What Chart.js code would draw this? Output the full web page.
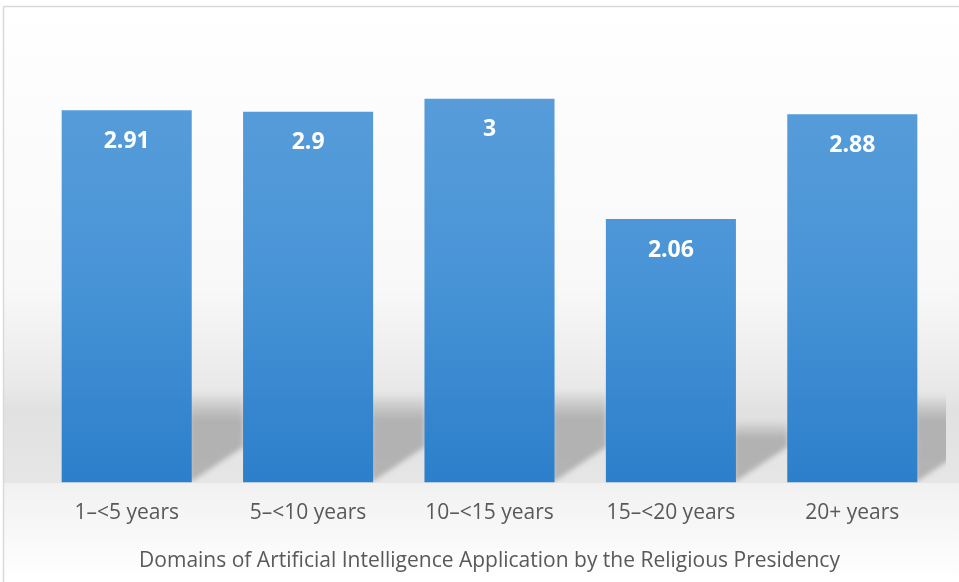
<!doctype html>
<html lang="en">
<head>
  <meta charset="UTF-8" />
  <title>Domains of Artificial Intelligence Application</title>
  <script src="https://cdn.jsdelivr.net/npm/chart.js@4.4.4/dist/chart.umd.min.js"></script>
  <style>
    html, body {
      margin: 0;
      padding: 0;
      background: #ffffff;
    }
    .wrap {
      position: relative;
      width: 959px;
      height: 582px;
    }
  </style>
</head>
<body>
  <div class="wrap">
    <canvas id="aiChart" width="959" height="582"></canvas>
  </div>

  <script>
    const categories = ['1–<5 years', '5–<10 years', '10–<15 years', '15–<20 years', '20+ years'];
    const means = [2.91, 2.9, 3, 2.06, 2.88];
    const axisTitle = 'Domains of Artificial Intelligence Application by the Religious Presidency';

    const fontFamily = '"Open Sans", sans-serif';

    // page background: soft white-to-grey "floor" plus the frame line
    const backdrop = {
      id: 'backdrop',
      beforeDraw(chart) {
        const { ctx, width, height, chartArea } = chart;
        const floor = chartArea.bottom;
        const g = ctx.createLinearGradient(0, 0, 0, height);
        g.addColorStop(0, '#ffffff');
        g.addColorStop(0.5, '#f8f8f8');
        g.addColorStop(385 / height, '#e9e9e9');
        g.addColorStop(410 / height, '#e1e1e1');
        g.addColorStop(floor / height, '#e6e6e6');
        g.addColorStop((floor + 1) / height, '#f1f1f1');
        g.addColorStop(1, '#ffffff');
        ctx.save();
        ctx.fillStyle = g;
        ctx.fillRect(4, 7, width, height);
        ctx.strokeStyle = '#d9d9d9';
        ctx.lineWidth = 1.5;
        ctx.strokeRect(3.5, 6.5, width + 10, height + 10);
        ctx.restore();
      }
    };

    // slanted grey shadow cast to the right of each bar
    const barShadows = {
      id: 'barShadows',
      beforeDatasetsDraw(chart) {
        const { ctx, chartArea } = chart;
        const meta = chart.getDatasetMeta(0);
        ctx.save();
        ctx.beginPath();
        ctx.rect(chartArea.left, chartArea.top, chartArea.right - chartArea.left + 3, chartArea.bottom - chartArea.top);
        ctx.clip();
        ctx.filter = 'blur(2.5px)';
        meta.data.forEach((bar) => {
          const right = bar.x + bar.width / 2;
          const h = bar.base - bar.y;
          const top = bar.base - h * 0.24;
          const w = 52;
          const g = ctx.createLinearGradient(0, top, 0, bar.base);
          g.addColorStop(0, 'rgba(170,170,170,0)');
          g.addColorStop(0.3, 'rgba(172,172,172,0.9)');
          g.addColorStop(1, 'rgba(176,176,176,0.95)');
          ctx.fillStyle = g;
          ctx.beginPath();
          ctx.moveTo(right - 2, top);
          ctx.lineTo(right + w, top);
          ctx.lineTo(right + w, bar.base - 36);
          ctx.lineTo(right - 2, bar.base);
          ctx.closePath();
          ctx.fill();
        });
        ctx.restore();
      }
    };

    // white value labels inside the top of each bar
    const valueLabels = {
      id: 'valueLabels',
      afterDatasetsDraw(chart) {
        const { ctx } = chart;
        const meta = chart.getDatasetMeta(0);
        ctx.save();
        ctx.fillStyle = '#ffffff';
        ctx.font = 'bold 23px ' + fontFamily;
        ctx.textAlign = 'center';
        ctx.textBaseline = 'middle';
        meta.data.forEach((bar, i) => {
          ctx.fillText(String(means[i]), bar.x, bar.y + 31);
        });
        ctx.restore();
      }
    };

    function barGradient(context) {
      const area = context.chart.chartArea;
      if (!area) return '#4a93d6';
      const g = context.chart.ctx.createLinearGradient(0, area.top, 0, area.bottom);
      g.addColorStop(0, '#5c9fda');
      g.addColorStop(0.5, '#4a95d7');
      g.addColorStop(1, '#2c7fcb');
      return g;
    }

    new Chart(document.getElementById('aiChart'), {
      type: 'bar',
      data: {
        labels: categories,
        datasets: [{
          data: means,
          backgroundColor: barGradient,
          borderWidth: 0,
          categoryPercentage: 1,
          barPercentage: 0.717
        }]
      },
      options: {
        responsive: false,
        animation: false,
        layout: { padding: { top: 40, left: 36, right: 16, bottom: 6 } },
        plugins: {
          legend: { display: false },
          tooltip: { enabled: false }
        },
        scales: {
          x: {
            grid: { display: false, drawTicks: false },
            border: { display: false },
            ticks: {
              color: '#595959',
              padding: 18,
              font: { family: fontFamily, size: 21 }
            },
            title: {
              display: true,
              text: axisTitle,
              color: '#595959',
              padding: { top: 5, bottom: 2 },
              font: { family: fontFamily, size: 21 }
            }
          },
          y: {
            display: false,
            min: 0,
            max: 3.46
          }
        }
      },
      plugins: [backdrop, barShadows, valueLabels]
    });
  </script>
</body>
</html>
